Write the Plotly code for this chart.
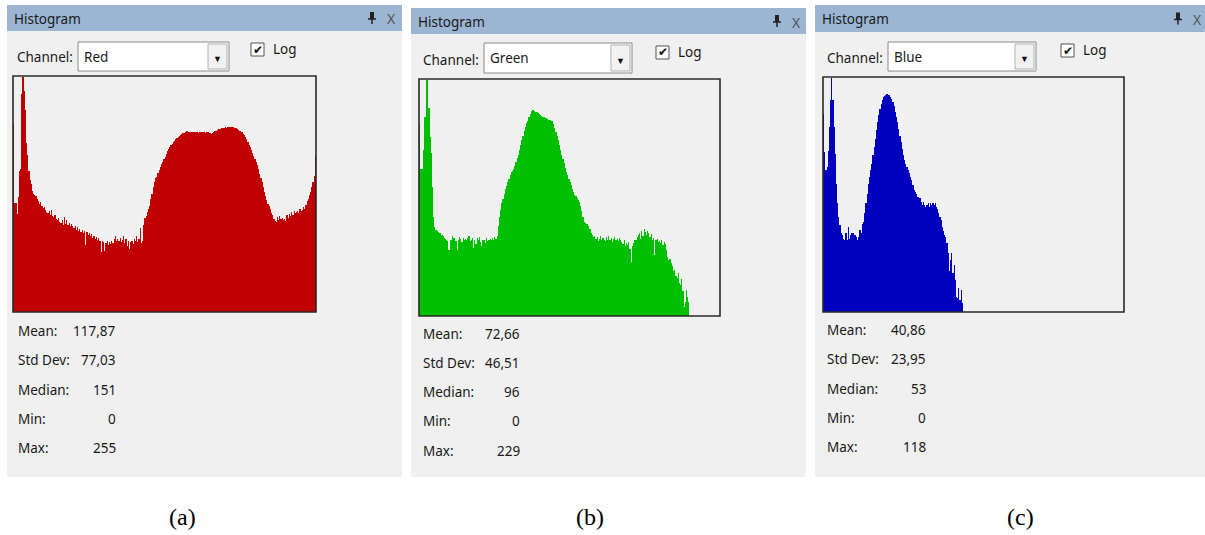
import plotly.graph_objects as go

W, H = 1205, 535
OFF = 0  # body margin removed by post_script below

# ---------------- data (log10 of pixel count per grey level) ----------------
gray_levels = list(range(256))

red_log = [
 4.00,2.31,2.31,2.09,2.45,3.00,3.05,4.63,5.00,4.70,4.30,3.60,3.35,3.00,2.80,2.72,
 2.58,2.52,2.48,2.46,2.40,2.36,2.30,2.34,2.26,2.22,2.24,2.16,2.12,2.10,2.14,2.06,
 2.18,2.04,2.02,2.06,1.98,1.96,2.00,1.92,1.90,1.96,1.86,2.02,1.88,1.95,1.85,1.90,
 1.84,1.88,1.82,1.78,1.84,1.75,1.80,1.72,1.76,1.70,1.74,1.68,1.72,1.42,1.70,1.64,
 1.68,1.62,1.66,1.58,1.62,1.56,1.60,1.54,1.58,1.52,1.28,1.50,1.48,1.30,1.46,1.50,
 1.42,1.48,1.44,1.50,1.46,1.55,1.62,1.52,1.56,1.50,1.58,1.48,1.54,1.62,1.46,1.56,
 1.40,1.50,1.35,1.48,1.52,1.45,1.55,1.50,1.62,1.48,1.56,1.78,1.46,1.50,1.85,2.00,
 2.05,2.12,2.20,2.26,2.40,2.52,2.66,2.76,2.84,2.88,2.96,3.02,3.08,3.14,3.20,3.25,
 3.30,3.36,3.42,3.46,3.52,3.55,3.58,3.62,3.64,3.67,3.70,3.72,3.74,3.76,3.78,3.80,
 3.81,3.83,3.84,3.84,3.83,3.82,3.83,3.82,3.82,3.83,3.82,3.82,3.81,3.82,3.82,3.83,
 3.82,3.82,3.81,3.82,3.82,3.83,3.80,3.79,3.81,3.83,3.85,3.86,3.88,3.89,3.90,3.90,
 3.91,3.91,3.92,3.93,3.92,3.93,3.93,3.94,3.94,3.93,3.93,3.92,3.91,3.90,3.88,3.86,
 3.84,3.82,3.79,3.76,3.72,3.68,3.62,3.56,3.50,3.44,3.38,3.32,3.26,3.20,3.12,3.04,
 2.94,2.85,2.76,2.66,2.56,2.46,2.38,2.30,2.26,2.20,2.10,2.06,1.98,1.94,1.92,2.02,
 1.96,2.04,1.98,2.00,1.95,1.98,1.94,2.06,2.00,2.08,2.04,2.12,2.06,2.14,2.10,2.12,
 2.14,2.10,2.20,2.14,2.18,2.24,2.20,2.28,2.36,2.40,2.48,2.56,2.66,2.76,2.90,3.32,
]

green_log = [
 4.07,3.12,3.12,3.51,4.21,4.21,4.99,4.99,4.40,3.79,3.45,2.73,2.10,1.89,1.82,1.80,
 1.78,1.76,1.75,1.72,1.70,1.66,1.64,1.62,1.58,1.40,1.60,1.62,1.70,1.65,1.66,1.58,
 1.40,1.62,1.68,1.64,1.56,1.66,1.60,1.64,1.62,1.66,1.70,1.58,1.62,1.66,1.44,1.60,
 1.52,1.66,1.60,1.68,1.56,1.48,1.62,1.60,1.54,1.66,1.58,1.62,1.64,1.60,1.66,1.62,
 1.68,1.64,1.70,1.90,2.10,2.25,2.40,2.48,2.58,2.68,2.76,2.84,2.90,2.98,3.04,3.08,
 3.12,3.18,3.26,3.34,3.42,3.52,3.62,3.72,3.82,3.92,4.00,4.08,4.14,4.22,4.28,4.34,
 4.36,4.37,4.35,4.33,4.32,4.30,4.28,4.26,4.24,4.22,4.21,4.20,4.19,4.18,4.16,4.15,
 4.14,4.12,4.06,3.98,3.90,3.82,3.72,3.62,3.52,3.42,3.33,3.24,3.14,3.05,2.98,2.90,
 2.84,2.78,2.70,2.62,2.56,2.54,2.50,2.46,2.42,2.34,2.22,2.10,2.00,1.96,1.94,1.94,
 1.90,1.84,1.76,1.72,1.68,1.70,1.64,1.68,1.58,1.64,1.70,1.60,1.66,1.62,1.58,1.68,
 1.62,1.70,1.60,1.66,1.56,1.64,1.68,1.60,1.64,1.58,1.66,1.60,1.56,1.52,1.62,1.48,
 1.55,1.50,1.56,1.42,1.15,1.48,1.55,1.60,1.62,1.68,1.72,1.76,1.64,1.80,1.70,1.84,
 1.78,1.72,1.80,1.76,1.68,1.74,1.62,1.66,1.30,1.60,1.64,1.56,1.58,1.54,1.62,1.50,
 1.56,1.52,1.40,1.26,1.18,1.20,1.12,1.05,0.95,0.98,0.85,0.80,0.92,0.70,0.65,0.78,
 0.52,0.20,0.30,0.55,0.40,0.30,
]

blue_log = [
 4.23,3.42,3.03,3.10,3.45,3.95,4.52,5.00,4.52,3.95,3.38,2.74,2.32,2.04,1.86,1.68,
 1.65,1.57,1.54,1.68,1.54,1.82,1.57,1.65,1.68,1.68,1.65,1.65,1.61,1.54,1.61,1.75,
 1.68,1.89,1.93,2.11,2.32,2.53,2.74,2.89,3.03,3.17,3.35,3.52,3.70,3.88,4.06,4.20,
 4.34,4.45,4.53,4.59,4.62,4.64,4.65,4.64,4.63,4.60,4.55,4.48,4.39,4.27,4.16,4.06,
 3.91,3.77,3.63,3.49,3.35,3.24,3.17,3.10,3.03,2.96,2.89,2.82,2.71,2.60,2.57,2.53,
 2.46,2.46,2.43,2.35,2.28,2.35,2.28,2.25,2.28,2.32,2.25,2.32,2.28,2.32,2.28,2.32,
 2.25,2.21,2.11,2.04,1.96,1.82,1.72,1.65,1.61,1.47,1.26,0.87,1.11,1.26,0.83,1.01,
 0.69,0.33,0.30,0.51,0.26,0.48,0.19,
]

channels = ["Red", "Green", "Blue"]
captions = ["(a)", "(b)", "(c)"]
stat_labels = ["Mean:", "Std Dev:", "Median:", "Min:", "Max:"]
stat_values = [
    ["117,87", "77,03", "151", "0", "255"],
    ["72,66", "46,51", "96", "0", "229"],
    ["40,86", "23,95", "53", "0", "118"],
]
series = [red_log, green_log, blue_log]
bar_colors = ["#C00000", "#00BE00", "#0000BE"]

# ---------------- layout geometry (screen pixels) ----------------
panels = [
    dict(win=(7, 5, 402, 477), tb=31, box=(13, 76, 316, 312), combo=(78, 42, 229, 71),
         check=(251, 43), ch_y=57, lab_x=16, val_x=118, stat_y=[331, 360, 390, 419, 448], cap_x=183),
    dict(win=(411, 8, 806, 477), tb=34, box=(419, 79, 720, 316), combo=(484, 43, 632, 73),
         check=(656, 46), ch_y=60, lab_x=421, val_x=522, stat_y=[334, 363, 392, 421, 451], cap_x=590),
    dict(win=(815, 5, 1206, 477), tb=32, box=(823, 77, 1124, 312), combo=(888, 42, 1036, 71),
         check=(1061, 44), ch_y=58, lab_x=825, val_x=928, stat_y=[330, 359, 389, 418, 447], cap_x=1020),
]

def X(px):
    return (px - OFF) / W

def Y(py):
    return 1 - (py - OFF) / H

UI_FONT = "Noto Sans"
TXT = "#1a1a1a"

fig = go.Figure()
shapes = []
annotations = []

def rect(x0, y0, x1, y1, fill, line=None, lw=0):
    shapes.append(dict(type="rect", xref="paper", yref="paper",
                       x0=X(x0), x1=X(x1), y0=Y(y1), y1=Y(y0),
                       fillcolor=fill, line=dict(color=line or fill, width=lw),
                       layer="below"))

def text(x, y, s, size=13.5, anchor="left", color=TXT, family=UI_FONT):
    annotations.append(dict(x=X(x), y=Y(y), xref="paper", yref="paper", text=s,
                            showarrow=False, xanchor=anchor, yanchor="middle",
                            font=dict(family=family, size=size, color=color)))

close_x = [391, 796, 1197]
for i, p in enumerate(panels):
    wx0, wy0, wx1, wy1 = p["win"]
    # window background and title bar
    rect(wx0, wy0, wx1, wy1, "#F0F0F0")
    rect(wx0, wy0, wx1, p["tb"], "#9BB5D3")
    text(wx0 + 5, (wy0 + p["tb"]) / 2 + 1, "Histogram", size=13.5)
    # pin icon and close cross
    cx = close_x[i]
    px = cx - 19
    cy = (wy0 + p["tb"]) / 2
    shapes.append(dict(type="rect", xref="paper", yref="paper", x0=X(px - 2), x1=X(px + 2),
                       y0=Y(cy + 1), y1=Y(cy - 6), fillcolor="#222", line=dict(width=0)))
    shapes.append(dict(type="line", xref="paper", yref="paper", x0=X(px - 4), x1=X(px + 4),
                       y0=Y(cy + 1), y1=Y(cy + 1), line=dict(color="#222", width=1.5)))
    shapes.append(dict(type="line", xref="paper", yref="paper", x0=X(px), x1=X(px),
                       y0=Y(cy + 1), y1=Y(cy + 6), line=dict(color="#222", width=1.5)))
    text(cx, cy + 1, "X", size=14, anchor="center", color="#555")

    # channel selector
    text(p["box"][0] + 2, p["ch_y"], "Channel:", size=13.5)
    cx0, cy0, cx1, cy1 = p["combo"]
    rect(cx0, cy0, cx1, cy1, "#FFFFFF", "#8A8A8A", 1)
    rect(cx1 - 21, cy0 + 2, cx1 - 2, cy1 - 2, "#F2F2F2", "#B0B0B0", 1)
    text(cx1 - 11.5, (cy0 + cy1) / 2 + 2, "▼", size=9, anchor="center", color="#111")
    text(cx0 + 4, (cy0 + cy1) / 2, channels[i], size=13.5)

    # log checkbox
    kx, ky = p["check"]
    rect(kx, ky, kx + 13, ky + 13, "#FFFFFF", "#555555", 1)
    text(kx + 6.5, ky + 6.5, "✔", size=12, anchor="center", color="#111", family="DejaVu Sans")
    text(kx + 20, ky + 6, "Log", size=13.5)

    # statistics
    for lab, val, sy in zip(stat_labels, stat_values[i], p["stat_y"]):
        text(p["lab_x"], sy, lab, size=13.5)
        text(p["val_x"], sy, val, size=13.5, anchor="right")

    # caption
    text(p["cap_x"], 517, captions[i], size=24, anchor="center", color="#000",
         family="Liberation Serif")

    # histogram plot
    bx0, by0, bx1, by1 = p["box"]
    ax = "" if i == 0 else str(i + 1)
    counts = [10 ** v for v in series[i]]
    fig.add_trace(go.Bar(x=gray_levels[:len(counts)], y=counts,
                         marker=dict(color=bar_colors[i], line=dict(width=0)),
                         xaxis="x" + ax, yaxis="y" + ax, showlegend=False, hoverinfo="skip"))
    fig.layout["xaxis" + ax] = dict(domain=[X(bx0), X(bx1)], range=[-0.5, 255.5], visible=False,
                                    anchor="y" + ax, fixedrange=True)
    fig.layout["yaxis" + ax] = dict(domain=[Y(by1), Y(by0)], type="log", range=[0, 5.02], visible=False,
                                    anchor="x" + ax, fixedrange=True)
    # plot box border (drawn above bars)
    shapes.append(dict(type="rect", xref="paper", yref="paper", x0=X(bx0), x1=X(bx1),
                       y0=Y(by1), y1=Y(by0), line=dict(color="#2a2a2a", width=1.6),
                       fillcolor="rgba(0,0,0,0)", layer="above"))
    rect(bx0, by0, bx1, by1, "#F0F0F0")

fig.update_layout(width=W, height=H, margin=dict(l=0, r=0, t=0, b=0),
                  paper_bgcolor="#FFFFFF", plot_bgcolor="rgba(0,0,0,0)",
                  bargap=0, shapes=shapes, annotations=annotations, hovermode=False)

fig.write_html("out.html", config={"displayModeBar": False, "staticPlot": True},
               post_script="document.body.style.margin='0px';document.body.style.overflow='hidden';")
